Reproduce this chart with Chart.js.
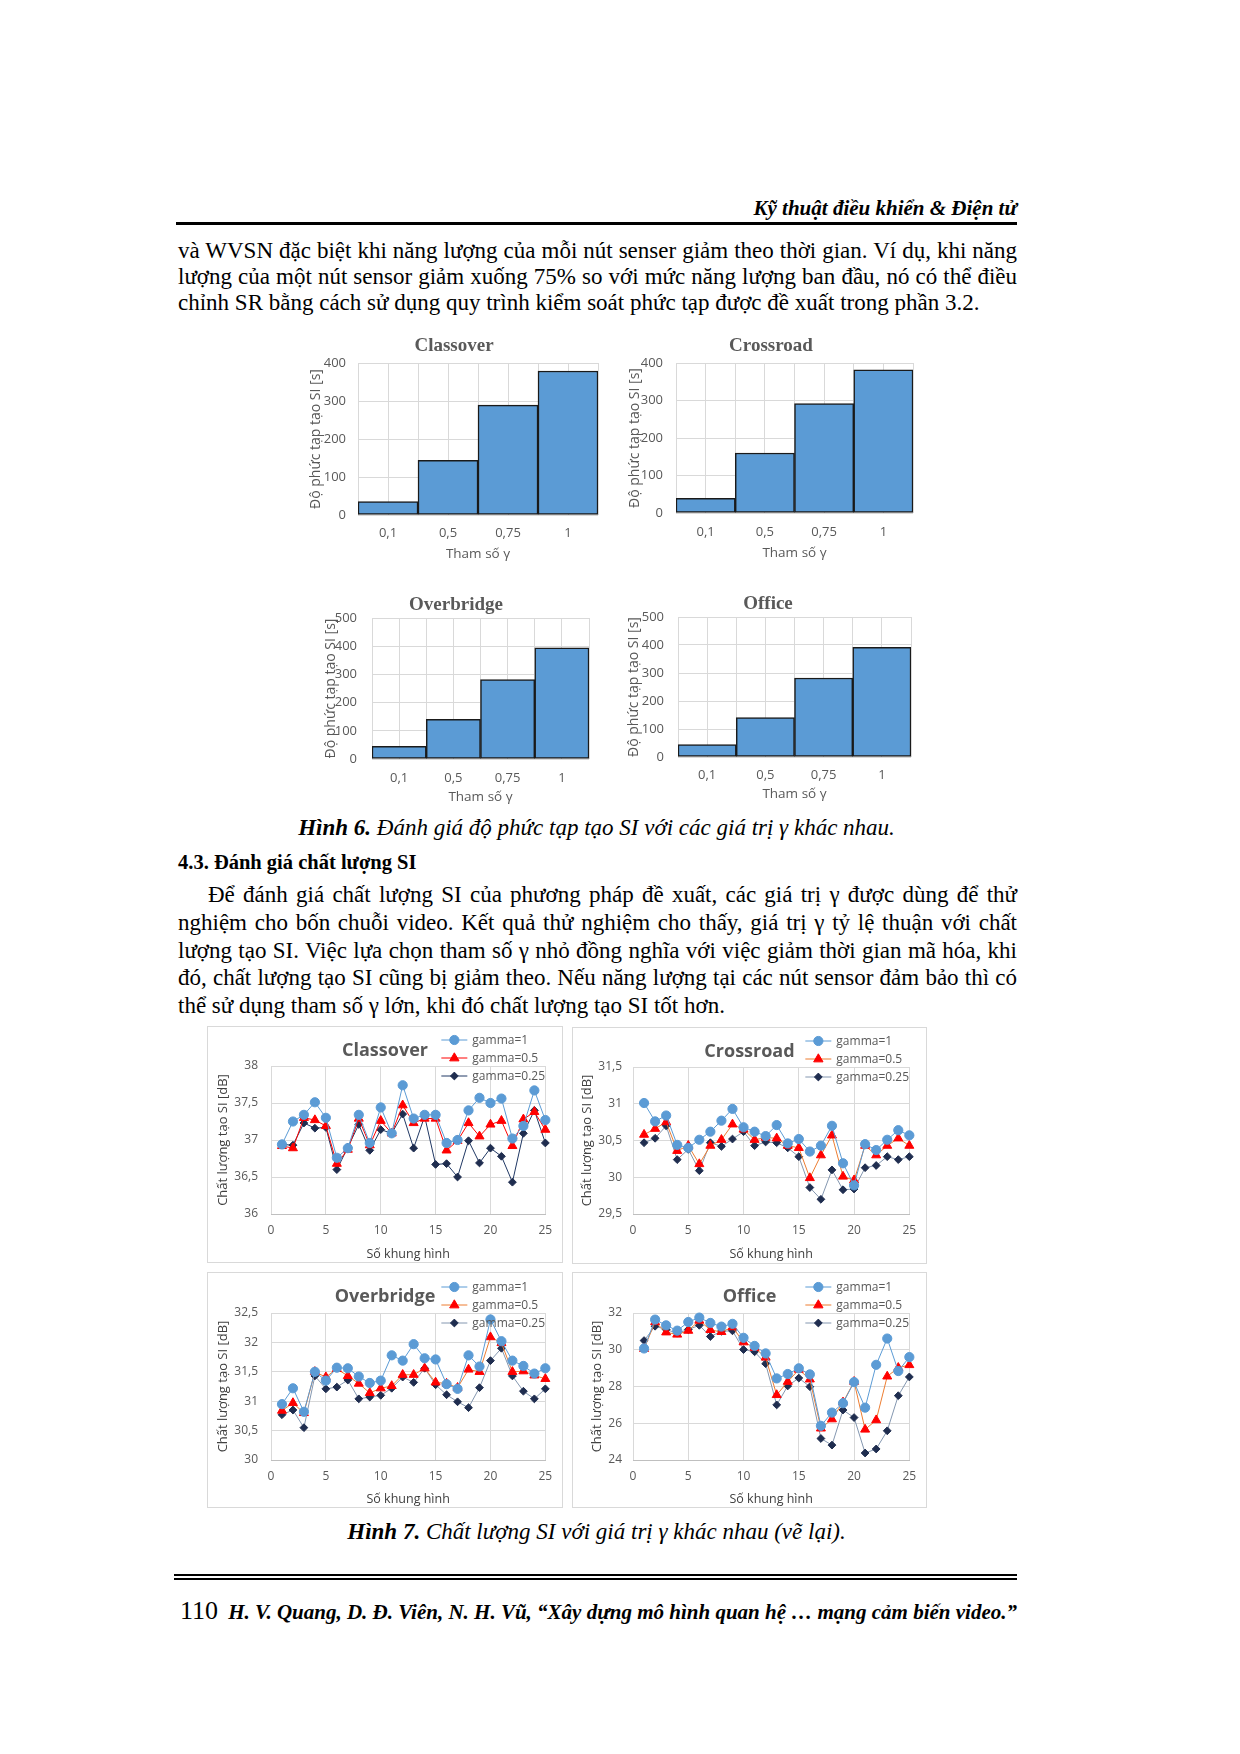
<!DOCTYPE html>
<html>
<head>
<meta charset="utf-8">
<script src="https://cdn.jsdelivr.net/npm/chart.js@4.4.1/dist/chart.umd.min.js"></script>
<style>
  html, body { margin:0; padding:0; background:#fff; }
  body { width:1240px; height:1754px; position:relative; overflow:hidden;
         font-family:'Liberation Serif','Times New Roman',serif; color:#000; }
  .t { position:absolute; white-space:nowrap; }
  .j { position:absolute; white-space:nowrap; font-size:23px; line-height:28px;
       text-align:justify; text-align-last:justify; }
  .l { position:absolute; white-space:nowrap; font-size:23px; line-height:28px; }
  .rule { position:absolute; background:#000; }
  .box { position:absolute; border:1px solid #D9D9D9; box-sizing:border-box; }
  canvas { position:absolute; }
</style>
</head>
<body>

<!-- header -->
<div class="t" style="right:223px; top:195px; font-size:21px; line-height:26px; font-weight:bold; font-style:italic;">Kỹ thuật điều khiển &amp; Điện tử</div>
<div class="rule" style="left:176px; top:222px; width:841px; height:3px;"></div>

<!-- paragraph 1 -->
<div class="j" style="left:178px; width:839px; top:237px;">và WVSN đặc biệt khi năng lượng của mỗi nút senser giảm theo thời gian. Ví dụ, khi năng</div>
<div class="j" style="left:178px; width:839px; top:263px;">lượng của một nút sensor giảm xuống 75% so với mức năng lượng ban đầu, nó có thể điều</div>
<div class="l" style="left:178px; top:289px;">chỉnh SR bằng cách sử dụng quy trình kiểm soát phức tạp được đề xuất trong phần 3.2.</div>

<!-- caption 6 -->
<div class="t" style="left:176px; width:841px; text-align:center; top:814px; font-size:23px; line-height:28px; font-style:italic;"><b>Hình 6.</b> Đánh giá độ phức tạp tạo SI với các giá trị γ khác nhau.</div>

<!-- heading -->
<div class="l" style="left:178px; top:848px; font-size:20.5px; font-weight:bold;">4.3. Đánh giá chất lượng SI</div>

<!-- paragraph 2 -->
<div class="j" style="left:208px; width:809px; top:881px;">Để đánh giá chất lượng SI của phương pháp đề xuất, các giá trị γ được dùng để thử</div>
<div class="j" style="left:178px; width:839px; top:909px;">nghiệm cho bốn chuỗi video. Kết quả thử nghiệm cho thấy, giá trị γ tỷ lệ thuận với chất</div>
<div class="j" style="left:178px; width:839px; top:937px;">lượng tạo SI. Việc lựa chọn tham số γ nhỏ đồng nghĩa với việc giảm thời gian mã hóa, khi</div>
<div class="j" style="left:178px; width:839px; top:964px;">đó, chất lượng tạo SI cũng bị giảm theo. Nếu năng lượng tại các nút sensor đảm bảo thì có</div>
<div class="l" style="left:178px; top:992px;">thể sử dụng tham số γ lớn, khi đó chất lượng tạo SI tốt hơn.</div>

<!-- line chart boxes -->
<div class="box" style="left:207px; top:1026px; width:356px; height:237px;"></div>
<div class="box" style="left:572px; top:1027px; width:355px; height:237px;"></div>
<div class="box" style="left:207px; top:1272px; width:356px; height:236px;"></div>
<div class="box" style="left:572px; top:1272px; width:355px; height:236px;"></div>

<!-- caption 7 -->
<div class="t" style="left:176px; width:841px; text-align:center; top:1518px; font-size:23px; line-height:28px; font-style:italic;"><b>Hình 7.</b> Chất lượng SI với giá trị γ khác nhau (vẽ lại).</div>

<!-- footer -->
<div class="rule" style="left:174px; top:1574px; width:843px; height:2px;"></div>
<div class="rule" style="left:174px; top:1578px; width:843px; height:1.5px;"></div>
<div class="t" style="left:180px; width:837px; top:1596px; display:flex; justify-content:space-between; align-items:baseline;">
  <span style="font-size:26px;">110</span>
  <span style="font-size:21px; font-weight:bold; font-style:italic;">H. V. Quang, D. Đ. Viên, N. H. Vũ, “Xây dựng mô hình quan hệ … mạng cảm biến video.”</span>
</div>

<script>
// ---------------- DATA ----------------
const gammaLabels = ['0,1', '0,5', '0,75', '1'];
const barClassover  = [35, 144, 289, 379];
const barCrossroad  = [39, 160, 292, 382];
const barOverbridge = [45, 141, 282, 394];
const barOffice     = [44, 141, 282, 392];

const frames = [1,2,3,4,5,6,7,8,9,10,11,12,13,14,15,16,17,18,19,20,21,22,23,24,25];
const seriesNames = ['gamma=1', 'gamma=0.5', 'gamma=0.25'];

const classoverG1   = [36.94,37.25,37.34,37.51,37.30,36.76,36.89,37.34,36.96,37.44,37.09,37.74,37.29,37.34,37.34,36.96,37.00,37.40,37.57,37.50,37.56,37.02,37.19,37.67,37.27];
const classoverG05  = [36.92,36.89,37.30,37.27,37.19,36.68,36.87,37.29,36.93,37.26,37.09,37.47,37.23,37.29,37.29,36.86,36.99,37.23,37.05,37.21,37.26,36.92,37.28,37.38,37.14];
const classoverG025 = [36.94,36.93,37.23,37.16,37.17,36.60,36.90,37.21,36.86,37.14,37.09,37.35,36.89,37.32,36.67,36.68,36.50,36.99,36.69,36.89,36.78,36.43,37.09,37.40,36.96];

const crossroadG1   = [31.01,30.76,30.84,30.44,30.40,30.51,30.62,30.77,30.93,30.68,30.62,30.56,30.71,30.46,30.52,30.35,30.43,30.70,30.19,29.89,30.45,30.37,30.51,30.64,30.57];
const crossroadG05  = [30.58,30.66,30.75,30.36,30.43,30.18,30.43,30.51,30.72,30.65,30.51,30.54,30.53,30.43,30.40,29.99,30.30,30.57,30.01,29.96,30.43,30.30,30.43,30.53,30.43];
const crossroadG025 = [30.47,30.53,30.70,30.24,30.38,30.09,30.47,30.42,30.52,30.62,30.43,30.48,30.47,30.40,30.28,29.86,29.70,30.10,29.83,29.84,30.13,30.16,30.28,30.24,30.28];

const overbridgeG1   = [30.95,31.22,30.82,31.50,31.35,31.57,31.56,31.42,31.31,31.35,31.78,31.69,31.97,31.73,31.71,31.29,31.21,31.78,31.59,32.39,32.02,31.69,31.60,31.47,31.56];
const overbridgeG05  = [30.84,30.97,30.80,31.50,31.41,31.55,31.43,31.30,31.14,31.22,31.26,31.45,31.45,31.56,31.32,31.30,31.23,31.54,31.50,32.09,31.99,31.50,31.51,31.44,31.38];
const overbridgeG025 = [30.77,30.85,30.55,31.43,31.21,31.24,31.36,31.04,31.07,31.10,31.22,31.41,31.32,31.56,31.28,31.11,30.99,30.89,31.23,31.69,31.90,31.43,31.17,31.04,31.21];

const officeG1   = [30.07,31.64,31.33,31.04,31.51,31.75,31.46,31.26,31.41,30.65,30.21,29.80,28.44,28.68,28.99,28.66,25.86,26.58,27.09,28.24,26.85,29.18,30.61,28.84,29.60];
const officeG05  = [30.05,31.51,30.95,30.83,31.04,31.59,31.08,30.97,31.23,30.41,30.11,29.58,27.54,28.26,28.92,28.39,25.72,26.22,27.14,28.26,25.66,26.17,28.55,29.02,29.17];
const officeG025 = [30.50,31.28,31.10,30.90,31.10,31.33,30.72,31.01,31.03,30.01,29.89,29.24,27.00,28.03,28.46,27.99,25.17,24.81,26.72,26.31,24.38,24.60,25.59,27.50,28.52];

// ---------------- SETUP ----------------
Chart.defaults.font.family = "'Open Sans', sans-serif";
Chart.defaults.color = '#595959';
Chart.defaults.animation = false;

function fmtComma(v) { return String(v).replace('.', ','); }

function makeCanvas(left, top, w, h) {
  const c = document.createElement('canvas');
  c.width = w; c.height = h;
  c.style.left = left + 'px'; c.style.top = top + 'px';
  c.style.width = w + 'px'; c.style.height = h + 'px';
  document.body.appendChild(c);
  return c;
}

function drawMarker(ctx, style, x, y, r, color) {
  ctx.save();
  ctx.fillStyle = color; ctx.strokeStyle = color; ctx.lineWidth = 1;
  ctx.beginPath();
  if (style === 'circle') {
    ctx.arc(x, y, r, 0, Math.PI * 2);
  } else if (style === 'triangle') {
    ctx.moveTo(x, y - r);
    ctx.lineTo(x + r * 0.9, y + r * 0.55);
    ctx.lineTo(x - r * 0.9, y + r * 0.55);
    ctx.closePath();
  } else {
    ctx.moveTo(x, y - r); ctx.lineTo(x + r, y); ctx.lineTo(x, y + r); ctx.lineTo(x - r, y); ctx.closePath();
  }
  ctx.fill(); ctx.stroke();
  ctx.restore();
}

const cornerLegend = {
  id: 'cornerLegend',
  afterDraw(chart) {
    const { ctx, chartArea } = chart;
    const rows = [-26, -8, 10];
    chart.data.datasets.forEach((ds, i) => {
      const y = chartArea.top + rows[i];
      const x0 = chartArea.right - 104, x1 = x0 + 26;
      ctx.save();
      ctx.strokeStyle = ds.borderColor; ctx.lineWidth = 1;
      ctx.beginPath(); ctx.moveTo(x0, y); ctx.lineTo(x1, y); ctx.stroke();
      drawMarker(ctx, ds.pointStyle, (x0 + x1) / 2, y, ds.pointRadius, ds.pointBackgroundColor);
      ctx.fillStyle = '#595959';
      ctx.font = "12px 'Open Sans', sans-serif";
      ctx.textBaseline = 'middle'; ctx.textAlign = 'left';
      ctx.fillText(ds.label, x1 + 5, y + 1);
      ctx.restore();
    });
  }
};

// ---------------- BAR CHARTS ----------------
function barChart(g, title, values, yMax) {
  const TFS = 19, TLH = TFS * 1.2;
  const TICK = 13, XT = 13.5, YT = 14;
  const cRight = g.plotR + 2;
  const cLeft = 2 * g.titleCx - cRight;
  const cTop = Math.round(g.titleCy - TLH / 2 - 4);
  const cBottom = Math.round(g.axisTitleY + XT * 0.6 + 2);
  const W = cRight - cLeft, H = cBottom - cTop;
  const c = makeCanvas(cLeft, cTop, W, H);
  const pt = g.titleCy - cTop - TLH / 2;
  const pb = g.plotT - cTop - pt - TLH;
  new Chart(c, {
    type: 'bar',
    data: {
      labels: gammaLabels,
      datasets: [{
        data: values,
        backgroundColor: '#5B9BD5',
        borderColor: '#1A1A1A',
        borderWidth: 1.5,
        borderSkipped: false,
        barPercentage: 1,
        categoryPercentage: 1
      }]
    },
    options: {
      responsive: false,
      animation: false,
      layout: { padding: 0 },
      plugins: {
        legend: { display: false },
        tooltip: { enabled: false },
        title: {
          display: true, text: title, color: '#595959',
          font: { family: "'Liberation Serif', serif", size: TFS, weight: 'bold' },
          padding: { top: pt, bottom: pb }
        }
      },
      scales: {
        x: {
          type: 'category', offset: true,
          grid: { color: '#D9D9D9', offset: true, drawTicks: false },
          border: { display: false },
          ticks: { padding: g.tickY - g.plotB - TICK * 0.6, font: { size: TICK }, color: '#595959' },
          title: { display: true, text: 'Tham số γ', color: '#595959', font: { size: XT }, padding: { top: 0, bottom: 2 } },
          afterFit(s) { s.height = cBottom - g.plotB; }
        },
        xc: {
          type: 'category', offset: true, position: 'bottom',
          grid: { color: '#D9D9D9', offset: false, drawTicks: false },
          border: { display: false },
          ticks: { display: false },
          afterFit(s) { s.height = 0; }
        },
        y: {
          min: 0, max: yMax,
          ticks: { stepSize: 100, padding: g.plotL - g.yTickRight, font: { size: TICK }, color: '#595959' },
          grid: { color: '#D9D9D9', drawTicks: false },
          border: { display: false },
          title: { display: true, text: 'Độ phức tạp tạo SI [s]', color: '#595959', font: { size: YT },
                   padding: { top: Math.max(0, g.yTitleX - cLeft - YT * 0.6), bottom: 0 } },
          afterFit(s) { s.width = g.plotL - cLeft; }
        },
        yr: {
          position: 'right', display: true,
          grid: { display: false }, border: { display: false }, ticks: { display: false },
          afterFit(s) { s.width = cRight - g.plotR; }
        }
      }
    }
  });
}

barChart({plotL:358, plotR:598, plotT:363, plotB:515, titleCx:454, titleCy:346, tickY:533, axisTitleY:554, yTitleX:316, yTickRight:346}, 'Classover', barClassover, 400);
barChart({plotL:676, plotR:913, plotT:363, plotB:513, titleCx:771, titleCy:346, tickY:532, axisTitleY:553, yTitleX:633, yTickRight:663}, 'Crossroad', barCrossroad, 400);
barChart({plotL:372, plotR:589, plotT:618, plotB:759, titleCx:456, titleCy:605, tickY:778, axisTitleY:797, yTitleX:331, yTickRight:357}, 'Overbridge', barOverbridge, 500);
barChart({plotL:678, plotR:911, plotT:617, plotB:757, titleCx:768, titleCy:604, tickY:775, axisTitleY:794, yTitleX:634, yTickRight:664}, 'Office', barOffice, 500);

// ---------------- LINE CHARTS ----------------
function lineChart(g, title, series, yMin, yMax, yStep, line05, line025) {
  const TFS = 18, TLH = TFS * 1.2;
  const TICK = 12, XT = 12.5, YT = 13;
  const cLeft = g.box[0] + 1, cTop = g.box[1] + 1, cRight = g.box[2] - 1, cBottom = g.box[3] - 1;
  const c = makeCanvas(cLeft, cTop, cRight - cLeft, cBottom - cTop);
  const pt = g.titleCy - cTop - TLH / 2;
  const pb = g.plotT - cTop - pt - TLH;
  const lineColors = ['#5B9BD5', line05, line025];
  const pointColors = ['#5B9BD5', '#FF0000', '#1F2D4F'];
  const styles = ['circle', 'triangle', 'rectRot'];
  const radii = [4.6, 5.2, 3.9];
  new Chart(c, {
    type: 'line',
    data: {
      datasets: series.map((vals, i) => ({
        label: seriesNames[i],
        data: frames.map((f, k) => ({ x: f, y: vals[k] })),
        borderColor: lineColors[i],
        backgroundColor: pointColors[i],
        pointBackgroundColor: pointColors[i],
        pointBorderColor: pointColors[i],
        pointBorderWidth: 1,
        pointStyle: styles[i],
        pointRadius: radii[i],
        borderWidth: 1,
        tension: 0,
        fill: false,
        clip: 12
      }))
    },
    options: {
      responsive: false,
      animation: false,
      layout: { padding: 0 },
      plugins: {
        legend: { display: false },
        tooltip: { enabled: false },
        title: {
          display: true, text: title, color: '#595959',
          font: { size: TFS, weight: 'bold' },
          padding: { top: pt, bottom: pb }
        }
      },
      scales: {
        x: {
          type: 'linear', min: 0, max: 25,
          ticks: { stepSize: 5, padding: g.tickY - g.plotB - TICK * 0.6, font: { size: TICK }, color: '#595959' },
          grid: { color: '#D9D9D9', drawTicks: false },
          border: { color: '#BFBFBF' },
          title: { display: true, text: 'Số khung hình', color: '#404040', font: { size: XT },
                   padding: { top: 0, bottom: Math.max(0, cBottom - g.axisTitleY - XT * 0.6) } },
          afterFit(s) { s.height = cBottom - g.plotB; }
        },
        y: {
          min: yMin, max: yMax,
          ticks: { stepSize: yStep, callback: fmtComma, padding: g.plotL - g.yTickRight, font: { size: TICK }, color: '#595959' },
          grid: { color: '#D9D9D9', drawTicks: false },
          border: { display: false },
          title: { display: true, text: 'Chất lượng tạo SI [dB]', color: '#404040', font: { size: YT },
                   padding: { top: Math.max(0, g.yTitleX - cLeft - YT * 0.6), bottom: 0 } },
          afterFit(s) { s.width = g.plotL - cLeft; }
        },
        yr: {
          position: 'right', display: true,
          grid: { display: false }, border: { display: false }, ticks: { display: false },
          afterFit(s) { s.width = cRight - g.plotR; }
        }
      }
    },
    plugins: [cornerLegend]
  });
}

lineChart({box:[207,1026,563,1263], plotL:271, plotT:1066, plotR:548, plotB:1214, titleCy:1051, tickY:1231, axisTitleY:1254, yTitleX:223, yTickRight:258},
  'Classover', [classoverG1, classoverG05, classoverG025], 36, 38, 0.5, '#FF0000', '#203864');
lineChart({box:[572,1027,927,1264], plotL:633, plotT:1067, plotR:911, plotB:1214, titleCy:1052, tickY:1231, axisTitleY:1254, yTitleX:587, yTickRight:622},
  'Crossroad', [crossroadG1, crossroadG05, crossroadG025], 29.5, 31.5, 0.5, '#ED7D31', '#8497B0');
lineChart({box:[207,1272,563,1508], plotL:271, plotT:1313, plotR:547, plotB:1460, titleCy:1297, tickY:1477, axisTitleY:1500, yTitleX:223, yTickRight:258},
  'Overbridge', [overbridgeG1, overbridgeG05, overbridgeG025], 30, 32.5, 0.5, '#ED7D31', '#8497B0');
lineChart({box:[572,1272,927,1508], plotL:633, plotT:1313, plotR:911, plotB:1460, titleCy:1297, tickY:1477, axisTitleY:1500, yTitleX:597, yTickRight:622},
  'Office', [officeG1, officeG05, officeG025], 24, 32, 2, '#ED7D31', '#8497B0');
</script>
</body>
</html>
